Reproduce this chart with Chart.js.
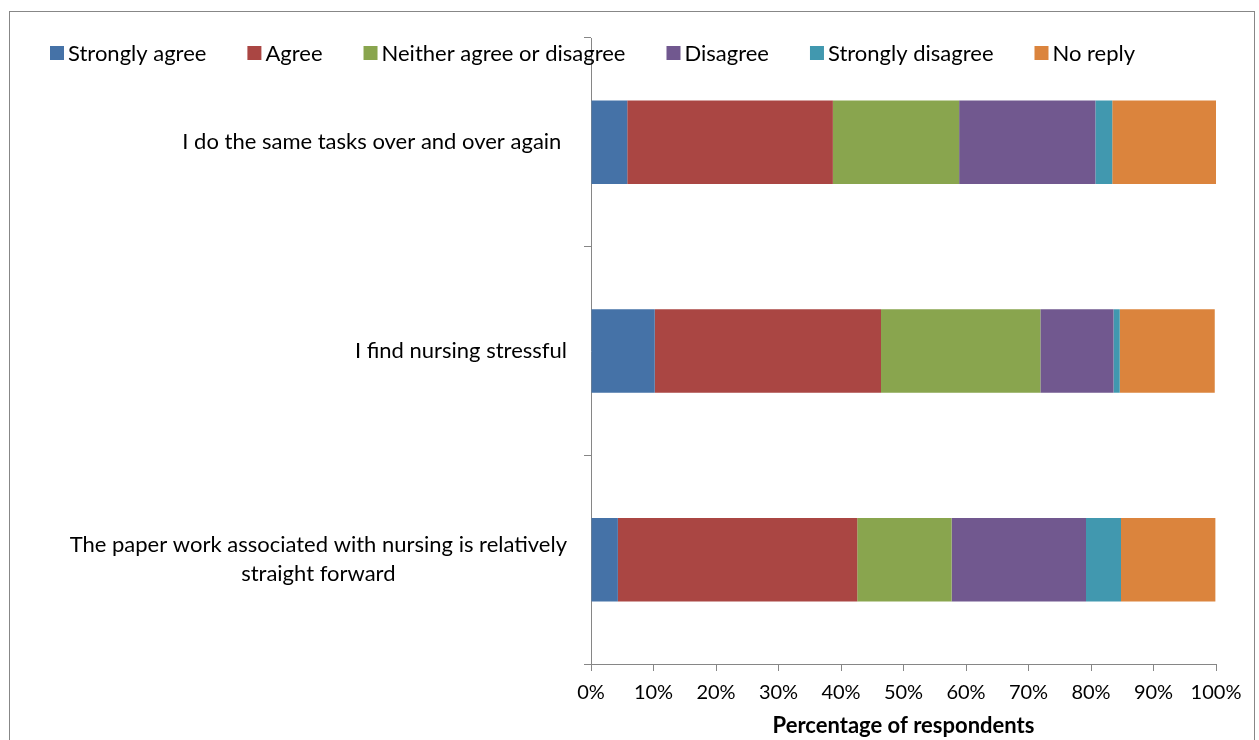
<!DOCTYPE html>
<html>
<head>
<meta charset="utf-8">
<title>Nursing survey</title>
<script src="https://cdn.jsdelivr.net/npm/chart.js@4.4.1/dist/chart.umd.min.js"></script>
<style>
	body { margin: 0; background: #fff; overflow: hidden; }
	.frame {
		position: absolute;
		left: 9px;
		top: 11px;
		width: 1244px;
		height: 728px;
		border: 1px solid #878787;
	}
</style>
</head>
<body>
<div class="frame"><canvas id="surveyChart"></canvas></div>
<script>
var categories = [
	'I do the same tasks over and over again ',
	'I find nursing stressful',
	['The paper work associated with nursing is relatively', 'straight forward']
];
var seriesNames = ['Strongly agree', 'Agree', 'Neither agree or disagree', 'Disagree', 'Strongly disagree', 'No reply'];
var seriesColors = ['#4572A7', '#AA4643', '#89A54E', '#71588F', '#4198AF', '#DB843D'];

var stronglyAgree = [5.8, 10.2, 4.3];
var agree = [32.9, 36.2, 38.3];
var neither = [20.2, 25.5, 15.1];
var disagree = [21.8, 11.7, 21.5];
var stronglyDisagree = [2.7, 1.0, 5.6];
var noReply = [16.6, 15.2, 15.1];

var xTicks = [0, 10, 20, 30, 40, 50, 60, 70, 80, 90, 100];

var seriesValues = [stronglyAgree, agree, neither, disagree, stronglyDisagree, noReply];

Chart.defaults.font.family = 'Lato';
Chart.defaults.font.size = 20;
Chart.defaults.color = '#000';

// legend drawn by hand so it can sit over the top of the plot like the original
var topLegend = {
	id: 'topLegend',
	afterDraw: function(chart) {
		var ctx = chart.ctx;
		ctx.save();
		ctx.font = '22px Lato';
		ctx.textBaseline = 'middle';
		ctx.textAlign = 'left';
		var x = 40;
		chart.data.datasets.forEach(function(ds) {
			ctx.fillStyle = ds.backgroundColor;
			ctx.fillRect(x, 34, 14, 14);
			ctx.fillStyle = '#000';
			ctx.fillText(ds.label, x + 18, 42);
			x += 18 + ctx.measureText(ds.label).width + 41;
		});
		ctx.restore();
	}
};

// category labels, wrapped lines centred on each other
var categoryLabels = {
	id: 'categoryLabels',
	afterDraw: function(chart) {
		var ctx = chart.ctx;
		var yScale = chart.scales.y;
		ctx.save();
		ctx.font = '22px Lato';
		ctx.fillStyle = '#000';
		ctx.textAlign = 'center';
		ctx.textBaseline = 'middle';
		chart.data.labels.forEach(function(label, i) {
			var lines = [].concat(label);
			var w = 0;
			lines.forEach(function(l) { w = Math.max(w, ctx.measureText(l).width); });
			var cx = chart.chartArea.left - 24 - w / 2;
			var cy = yScale.getPixelForValue(i);
			lines.forEach(function(l, j) {
				ctx.fillText(l, cx, cy + (j - (lines.length - 1) / 2) * 29);
			});
		});
		ctx.restore();
	}
};

var datasets = seriesNames.map(function(name, i) {
	return {
		label: name,
		data: seriesValues[i],
		backgroundColor: seriesColors[i],
		borderWidth: 0,
		barPercentage: 0.4,
		categoryPercentage: 1
	};
});

var surveyChart = new Chart(document.getElementById('surveyChart').getContext('2d'), {
	type: 'bar',
	data: {
		labels: categories,
		datasets: datasets
	},
	options: {
		indexAxis: 'y',
		responsive: true,
		maintainAspectRatio: false,
		animation: false,
		layout: {
			padding: { top: 26, left: 0, right: 38, bottom: 0 }
		},
		plugins: {
			legend: { display: false },
			tooltip: { enabled: false }
		},
		scales: {
			x: {
				stacked: true,
				min: 0,
				max: 100,
				afterBuildTicks: function(scale) {
					scale.ticks = xTicks.map(function(v) { return { value: v }; });
				},
				grid: { drawOnChartArea: false, tickLength: 7, color: '#868686' },
				border: { color: '#868686', width: 1 },
				ticks: {
					padding: 10,
					maxRotation: 0,
					callback: function(v) { return v + '%'; }
				},
				title: {
					display: true,
					text: 'Percentage of respondents',
					font: { size: 22, weight: 'bold' },
					padding: { top: 0, bottom: 1 }
				},
				afterFit: function(scale) { scale.height = 76; }
			},
			y: {
				stacked: true,
				grid: { drawOnChartArea: false, offset: true, tickLength: 7, color: '#868686' },
				border: { color: '#868686', width: 1 },
				ticks: { display: false },
				afterFit: function(scale) { scale.width = 581; }
			}
		}
	},
	plugins: [topLegend, categoryLabels]
});
</script>
</body>
</html>
